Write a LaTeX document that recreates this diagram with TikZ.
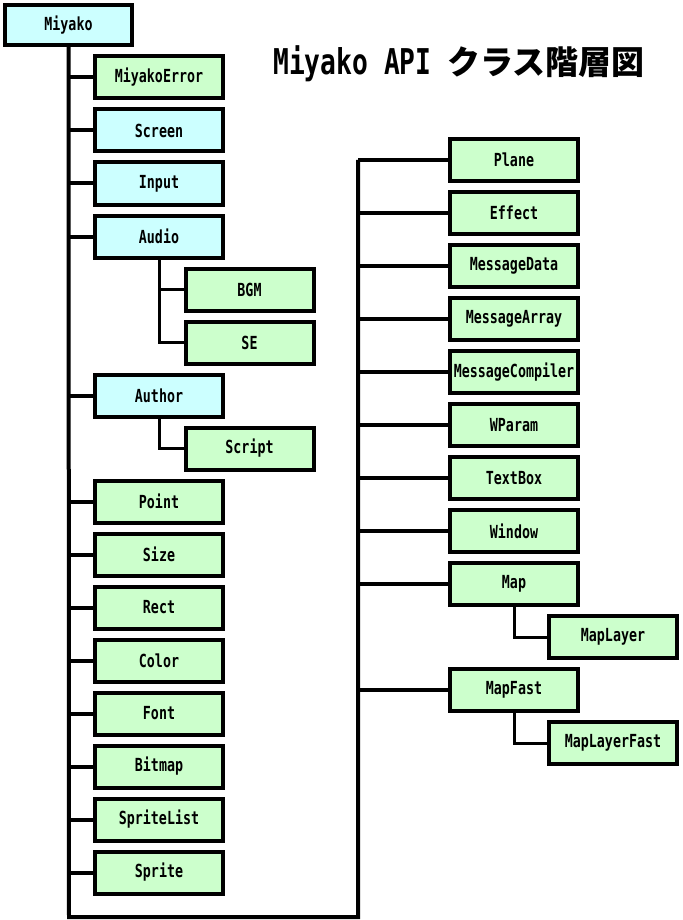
\documentclass[tikz,border=0pt]{standalone}
\usepackage{fontspec}
\usepackage{tikz}
\usetikzlibrary{positioning,calc}
\newfontfamily\lblfont[FakeStretch=0.74]{DejaVu Sans Mono}
\newfontfamily\jpfont{Noto Sans CJK JP}
\definecolor{cyanbox}{HTML}{CCFFFF}
\definecolor{greenbox}{HTML}{CCFFCC}
\tikzset{
  cls/.style={draw,line width=4pt,fill=greenbox,minimum width=128pt,minimum height=42pt,inner sep=0pt,font=\lblfont\bfseries\fontsize{18}{18}\selectfont},
  core/.style={cls,fill=cyanbox},
  link/.style={line width=4pt},
  sublink/.style={line width=3pt}
}
\begin{document}
\begin{tikzpicture}[x=1pt,y=-1pt]
\useasboundingbox (0,0) rectangle (682,920);
% title
\node (title) at (459,64) {\lblfont\bfseries\fontsize{35.5}{36}\selectfont Miyako API \jpfont\bfseries\fontsize{33}{33}\selectfont クラス階層図};
% root
\node[core,minimum width=127pt,minimum height=40pt] (miyako) at (68.5,25) {Miyako};
% left column
\node[cls] (err) at (159,77.5) {MiyakoError};
\node[core] (screen) at (159,130.5) {Screen};
\node[core] (input) at (159,183.5) {Input};
\node[core] (audio) at (159,236.5) {Audio};
\node[cls] (bgm) at (249.5,289.5) {BGM};
\node[cls] (se) at (249.5,342.5) {SE};
\node[core] (author) at (159,395.5) {Author};
\node[cls] (script) at (249.5,448.5) {Script};
\node[cls] (point) at (159,501.5) {Point};
\node[cls] (size) at (159,554.5) {Size};
\node[cls] (rect) at (159,607.5) {Rect};
\node[cls] (color) at (159,660.5) {Color};
\node[cls] (font) at (159,713.5) {Font};
\node[cls] (bitmap) at (159,766.5) {Bitmap};
\node[cls] (slist) at (159,819.5) {SpriteList};
\node[cls] (sprite) at (159,872.5) {Sprite};
% right column
\node[cls] (plane) at (514,160) {Plane};
\node[cls] (effect) at (514,213) {Effect};
\node[cls] (mdata) at (514,266) {MessageData};
\node[cls] (marray) at (514,319) {MessageArray};
\node[cls] (mcomp) at (514,372) {MessageCompiler};
\node[cls] (wparam) at (514,425) {WParam};
\node[cls] (tbox) at (514,478) {TextBox};
\node[cls] (window) at (514,531) {Window};
\node[cls] (map) at (514,584) {Map};
\node[cls] (mlayer) at (613,637) {MapLayer};
\node[cls] (mfast) at (514,690) {MapFast};
\node[cls] (mlfast) at (613,743) {MapLayerFast};
% trunk
\coordinate (L) at (69,917);
\coordinate (R) at (358,917);
\draw[link] (miyako) -- (L) -- (R) -- (R |- plane);
\path[link]
(L |- err) edge (err)
(L |- screen) edge (screen)
(L |- input) edge (input)
(L |- audio) edge (audio)
(L |- author) edge (author)
(L |- point) edge (point)
(L |- size) edge (size)
(L |- rect) edge (rect)
(L |- color) edge (color)
(L |- font) edge (font)
(L |- bitmap) edge (bitmap)
(L |- slist) edge (slist)
(L |- sprite) edge (sprite)
(R |- plane) edge (plane)
(R |- effect) edge (effect)
(R |- mdata) edge (mdata)
(R |- marray) edge (marray)
(R |- mcomp) edge (mcomp)
(R |- wparam) edge (wparam)
(R |- tbox) edge (tbox)
(R |- window) edge (window)
(R |- map) edge (map)
(R |- mfast) edge (mfast);
% sub classes
\draw[sublink] (audio) -- (audio |- se) -- (se);
\draw[sublink] (audio |- bgm) -- (bgm);
\draw[sublink] (author) -- (author |- script) -- (script);
\draw[sublink] (map) -- (map |- mlayer) -- (mlayer);
\draw[sublink] (mfast) -- (mfast |- mlfast) -- (mlfast);
\end{tikzpicture}
\end{document}
